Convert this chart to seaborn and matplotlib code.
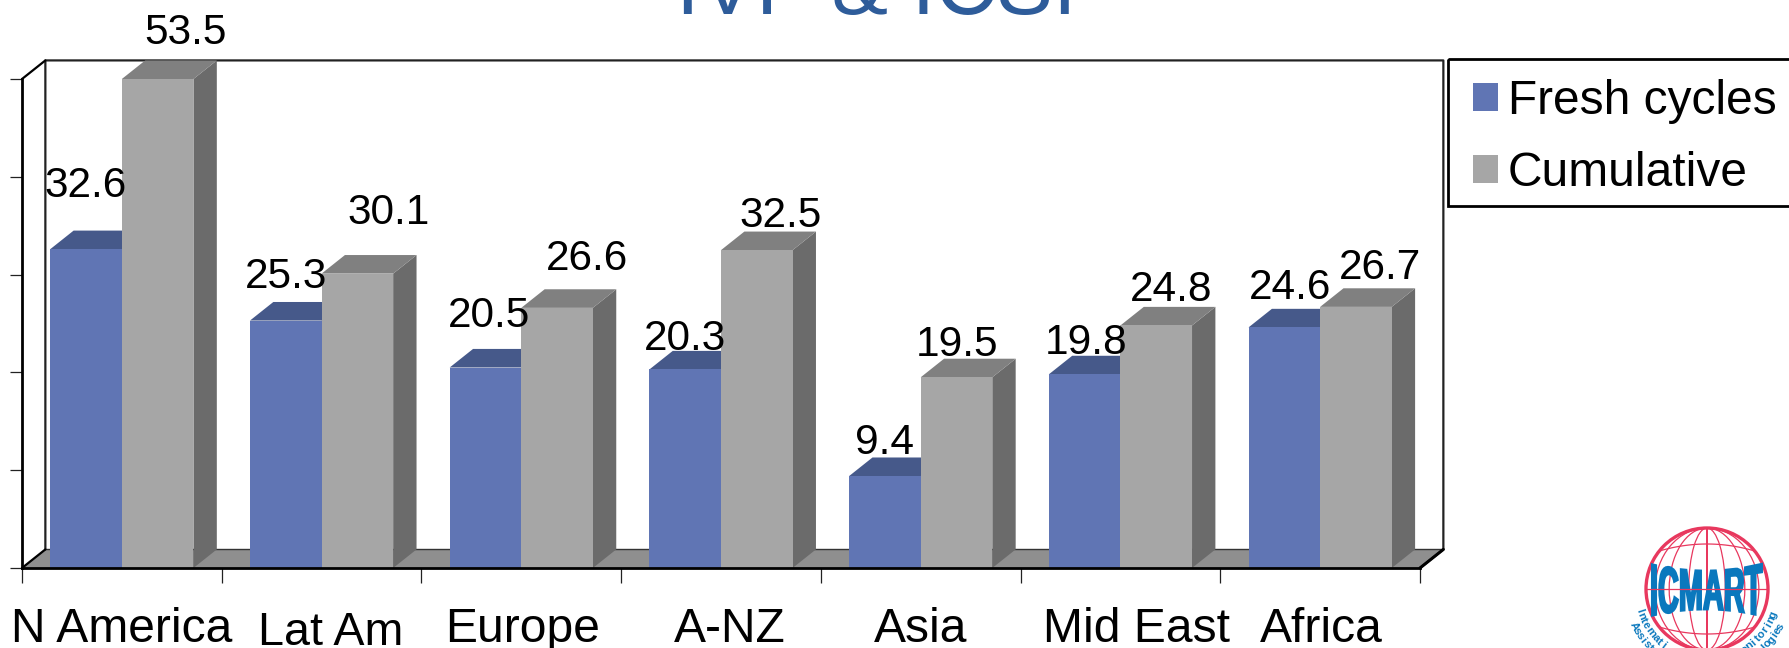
import numpy as np
import pandas as pd
import seaborn as sns
import matplotlib.pyplot as plt
from matplotlib.patches import Circle, Ellipse, PathPatch, Rectangle
from matplotlib.path import Path
from matplotlib.textpath import TextPath
from matplotlib.font_manager import FontProperties
from matplotlib.transforms import ScaledTranslation

# values
regions = ['N America', 'Lat Am', 'Europe', 'A-NZ', 'Asia', 'Mid East', 'Africa']
fresh = [32.6, 25.3, 20.5, 20.3, 9.4, 19.8, 24.6]
cumulative = [53.5, 30.1, 26.6, 32.5, 19.5, 24.8, 26.7]
series_names = ['Fresh cycles', 'Cumulative']

# hand placed data label offsets from the bar top, in pixels
fresh_offsets = [(0, 63), (0, 44), (4, 52), (0, 30), (0, 33), (1, 31), (6, 39)]
cumulative_offsets = [(28, 46), (31, 61), (30, 49), (24, 34), (1, 32), (15, 35), (24, 39)]
# tick label nudges, pixels
label_nudges = [(0, 0), (9, -4), (1, 0), (9, 0), (0, 0), (16, 0), (1, 0)]

W, H = 1790, 648
BLUE, BLUE_TOP = '#6075b4', '#46598a'
GREY, GREY_TOP, GREY_SIDE = '#a6a6a6', '#808080', '#6b6b6b'
FLOOR = '#8f8f8f'

sns.set_style('white')
plt.rcParams['font.family'] = ['Liberation Sans', 'DejaVu Sans']
plt.rcParams['text.color'] = 'black'

df = pd.DataFrame({
    'region': regions * 2,
    'value': fresh + cumulative,
    'series': [series_names[0]] * 7 + [series_names[1]] * 7,
})

fig = plt.figure(figsize=(W / 100, H / 100), dpi=100)
ax = fig.add_axes([22 / W, 1 - 568 / H, (1420 - 22) / W, (568 - 79) / H])
sns.barplot(data=df, x='region', y='value', hue='series', palette=[BLUE, GREY],
            width=0.717, gap=0, saturation=1, errorbar=None, linewidth=0, ax=ax)
ax.set_xlim(-0.5, 6.5)
ax.set_ylim(0, 50)
ax.set_xlabel('')
ax.set_ylabel('')
ax.patch.set_alpha(0)

# depth of the fake 3D box in data units
dx, dy = 0.117, 1.9
x0, x1 = -0.5, 6.5

ax.fill([x0, x0 + dx, x1 + dx, x1], [0, dy, dy, 0], color=FLOOR, lw=0, clip_on=False, zorder=0.5)
ax.plot([x0 + dx, x0 + dx, x1 + dx, x1 + dx, x1 + dx - dx], [dy, 50 + dy, 50 + dy, dy, 0],
        color='#222222', lw=1.6, clip_on=False, zorder=0.6)
ax.plot([x0 + dx, x1 + dx], [dy, dy], color='#333333', lw=1, clip_on=False, zorder=0.6)
ax.plot([x0, x0 + dx], [50, 50 + dy], color='black', lw=1.6, clip_on=False, zorder=0.6)
ax.plot([x0, x0 + dx], [0, dy], color='black', lw=1.6, clip_on=False, zorder=0.6)
ax.plot([x1, x1 + dx], [0, dy], color='black', lw=2.2, clip_on=False, zorder=0.6)

# side and top faces follow the bars that seaborn drew
for k, (cont, top_c, base_z) in enumerate(zip(ax.containers, [BLUE_TOP, GREY_TOP], [2, 3])):
    for bar in cont:
        bar.set_zorder(base_z + 0.2)
        x, w = bar.get_x(), bar.get_width()
        top = min(bar.get_height(), 50)
        ax.fill([x + w, x + w + dx, x + w + dx, x + w], [0, dy, top + dy, top],
                color=GREY_SIDE if k else BLUE_TOP, lw=0, clip_on=False, zorder=base_z)
        ax.fill([x, x + dx, x + w + dx, x + w], [top, top + dy, top + dy, top],
                color=top_c, lw=0, clip_on=False, zorder=base_z + 0.1)

# data labels
for cont, vals, offs in zip(ax.containers, [fresh, cumulative], [fresh_offsets, cumulative_offsets]):
    for bar, v, off in zip(cont, vals, offs):
        ax.annotate(f'{v:.1f}', (bar.get_x() + bar.get_width() / 2, min(v, 50)), xytext=off,
                    textcoords='offset pixels', ha='center', va='center', fontsize=30.5,
                    color='black', annotation_clip=False, zorder=6)

# axes lines and ticks
for s in ['top', 'right']:
    ax.spines[s].set_visible(False)
for s in ['left', 'bottom']:
    ax.spines[s].set_color('black')
    ax.spines[s].set_linewidth(2)
    ax.spines[s].set_zorder(5)
ax.set_yticks(np.arange(0, 60, 10))
ax.set_yticklabels([])
ax.tick_params(axis='y', left=True, length=8.6, width=0.9, color='#222222')
ax.set_xticks(np.arange(-0.5, 7, 1), minor=True)
ax.tick_params(axis='x', which='minor', bottom=True, length=11, width=0.9, color='#222222')
ax.tick_params(axis='x', which='major', bottom=False, length=0, labelsize=34.6, pad=28, labelcolor='black')
ax.set_xticks(range(7))
ax.set_xticklabels(regions)
for lab, (ox, oy) in zip(ax.get_xticklabels(), label_nudges):
    lab.set_transform(lab.get_transform() + ScaledTranslation(ox / 100, oy / 100, fig.dpi_scale_trans))
ax.get_xticklabels()[1].set_fontsize(33.6)

# legend entries without a frame, the box runs off the right edge of the picture
leg = ax.legend(loc='upper left', bbox_to_anchor=(1473 / W, 1 - 79 / H), bbox_transform=fig.transFigure,
                borderaxespad=0, fontsize=34.5, frameon=False, borderpad=0, handlelength=0.52,
                handleheight=0.52, handletextpad=0.21, labelspacing=0.56)
leg.set_zorder(8)

fig.text(876 / W, 1 - 14 / H, 'IVF & ICSI', fontsize=61, color='#2e5c9a', ha='center', va='baseline')

# legend box and logo, drawn in an overlay using pixel coordinates
logo = fig.add_axes([0, 0, 1, 1], facecolor='none')
logo.set_xlim(0, W)
logo.set_ylim(H, 0)
logo.axis('off')
logo.add_patch(Rectangle((1448, 59), 360, 147, fc='none', ec='black', lw=2))

cx, cy, r = 1707, 589, 61
RED, CYAN = '#e8385e', '#0a78bd'
logo.add_patch(Circle((cx, cy), r, fc='white', ec=RED, lw=2.4))
for f in [0.0, 0.3, 0.62, 0.85]:
    logo.add_patch(Ellipse((cx, cy), 2 * r * f, 2 * r, fc='none', ec=RED, lw=0.9))
for off in [-38, 0, 38]:
    half = np.sqrt(r ** 2 - off ** 2)
    xs = np.linspace(cx - half, cx + half, 30)
    logo.plot(xs, cy + off + np.sign(off) * 7 * (1 - ((xs - cx) / half) ** 2), color=RED, lw=0.9)

tp = TextPath((0, 0), 'ICMART', size=40, prop=FontProperties(family='Liberation Sans', weight='bold'))
v = tp.vertices.copy()
u = (v[:, 0] - v[:, 0].min()) / np.ptp(v[:, 0])
t = (v[:, 1] - v[:, 1].min()) / np.ptp(v[:, 1])
# letters bulge out towards both ends, like the printed mark
half_h = 20 + 7 * (2 * u - 1) ** 2
px = 1650 + u * 112
py = 590 + (0.5 - t) * 2 * half_h
logo.add_patch(PathPatch(Path(np.column_stack([px, py]), tp.codes), fc=CYAN, ec=CYAN, lw=1.4))


def arc_text(s, radius, start, step):
    for i, ch in enumerate(s):
        a = np.radians(start + i * step)
        logo.text(cx + radius * np.cos(a), cy + radius * np.sin(a), ch, fontsize=8, fontweight='bold',
                  color=CYAN, ha='center', va='center', rotation=90 - np.degrees(a), rotation_mode='anchor')


# only the part of the ring text above the bottom edge is visible in the picture
arc_text('Internati', 71, 162, -4.3)
arc_text('Assist', 82, 153, -3.9)
arc_text('onitoring', 71, 58, -4.6)
arc_text('nologies', 82, 53, -3.7)

fig.savefig('out.png', dpi=100)
